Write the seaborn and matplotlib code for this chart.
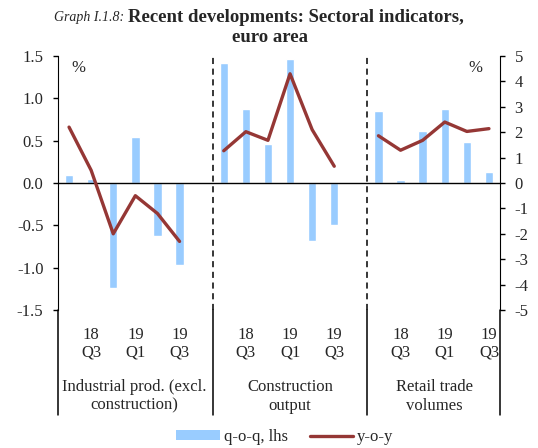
import matplotlib
matplotlib.use("Agg")
import matplotlib.pyplot as plt
import seaborn as sns
import pandas as pd
from matplotlib.patches import Patch
from matplotlib.lines import Line2D
import matplotlib.transforms as mtransforms

# data (quarters 18Q2 .. 19Q3 per sector)
groups = ["Industrial prod. (excl.\nconstruction)", "Construction\noutput", "Retail trade\nvolumes"]
quarter_labels = ["18\nQ3", "19\nQ1", "19\nQ3"]
ip_qoq = [0.09, 0.05, -1.24, 0.54, -0.63, -0.97]
ip_yoy = [2.2, 0.5, -2.0, -0.5, -1.2, -2.3]
co_qoq = [1.42, 0.87, 0.46, 1.46, -0.69, -0.50]
co_yoy = [1.27, 2.02, 1.68, 4.3, 2.1, 0.66]
rt_qoq = [0.85, 0.03, 0.62, 0.87, 0.48, 0.13]
rt_yoy = [1.86, 1.29, 1.68, 2.4, 2.03, 2.14]

bar_color = "#99CCFF"
line_color = "#953735"

sns.set_style("white")
plt.rcParams["font.family"] = ["Liberation Serif", "DejaVu Serif"]
plt.rcParams["font.size"] = 12
plt.rcParams["axes.unicode_minus"] = False

rows = []
starts = [0, 7, 14]
for g, start, qoq, yoy in zip(groups, starts, [ip_qoq, co_qoq, rt_qoq], [ip_yoy, co_yoy, rt_yoy]):
    for i in range(6):
        rows.append({"group": g, "slot": start + i, "qoq": qoq[i], "yoy": yoy[i]})
df = pd.DataFrame(rows)

fig = plt.figure(figsize=(5.38, 4.48), dpi=100)
ax = fig.add_axes([58 / 538, 138 / 448, 442 / 538, 254 / 448])

sns.barplot(data=df, x="slot", y="qoq", native_scale=True, color=bar_color,
            width=0.38, saturation=1, ax=ax, errorbar=None)
ax.set_xlim(-0.5, 19.5)
ax.set_ylim(-1.5, 1.5)
ax.set_yticks([-1.5, -1.0, -0.5, 0.0, 0.5, 1.0, 1.5])
ax.set_yticklabels(["-1.5", "-1.0", "-0.5", "0.0", "0.5", "1.0", "1.5"])
ax.axhline(0, color="black", lw=1.0, zorder=5)
ax.set_xlabel("")
ax.set_ylabel("")

ax2 = ax.twinx()
sns.lineplot(data=df, x="slot", y="yoy", units="group", estimator=None,
             color=line_color, lw=2.4, ax=ax2)
ax2.set_ylim(-5, 5)
ax2.set_yticks(range(-5, 6))
ax2.set_ylabel("")
ax2.set_xlim(-0.5, 19.5)

for a in (ax, ax2):
    for s in ("top", "bottom"):
        a.spines[s].set_visible(False)
ax.spines["right"].set_visible(False)
ax2.spines["left"].set_visible(False)
ax.spines["left"].set_color("black")
ax2.spines["right"].set_color("black")
ax.tick_params(axis="y", direction="out", length=3.5, width=1, color="black", left=True, pad=7)
ax2.tick_params(axis="y", direction="out", length=3.5, width=1, color="black", right=True, pad=7)

ax.set_xticks([1, 3, 5, 8, 10, 12, 15, 17, 19])
ax.set_xticklabels(quarter_labels * 3, linespacing=1.12)
ax.tick_params(axis="x", length=0, pad=12)

# group separators: dashed inside the plot, solid below it
trans = mtransforms.blended_transform_factory(ax.transData, ax.transAxes)
for xs in (6.5, 13.5):
    ax.plot([xs, xs], [0, 1], transform=trans, color="black", lw=1.1, ls=(0, (4, 3)), clip_on=False)
for xs in (-0.5, 6.5, 13.5, 19.5):
    ax.plot([xs, xs], [-0.415, 0], transform=trans, color="black", lw=1.1, clip_on=False)

for g, c in zip(groups, [2.95, 10.0, 16.55]):
    ax.text(c, -0.272, g, transform=trans, ha="center", va="top", linespacing=1.22)

ax.text(0.045, 0.985, "%", transform=ax.transAxes, ha="center", va="top")
ax2.text(0.945, 0.985, "%", transform=ax.transAxes, ha="center", va="top")

fig.text(124 / 538, 1 - 17 / 448, "Graph I.1.8:", style="italic", fontsize=10, ha="right", va="center")
fig.text(128 / 538, 1 - 17 / 448, "Recent developments: Sectoral indicators,", weight="bold",
         fontsize=13.5, ha="left", va="center")
fig.text(270 / 538, 1 - 37 / 448, "euro area", weight="bold", fontsize=13.5, ha="center", va="center")

handles = [Patch(facecolor=bar_color, edgecolor="none"), Line2D([], [], color=line_color, lw=2.4)]
fig.legend(handles, ["q-o-q, lhs", "y-o-y"], loc="center", bbox_to_anchor=(285 / 538, 1 - 437 / 448),
           ncol=2, frameon=False, handlelength=2.6, handleheight=0.55, handletextpad=0.25,
           columnspacing=1.3, borderpad=0)

fig.savefig("out.png", dpi=100)
